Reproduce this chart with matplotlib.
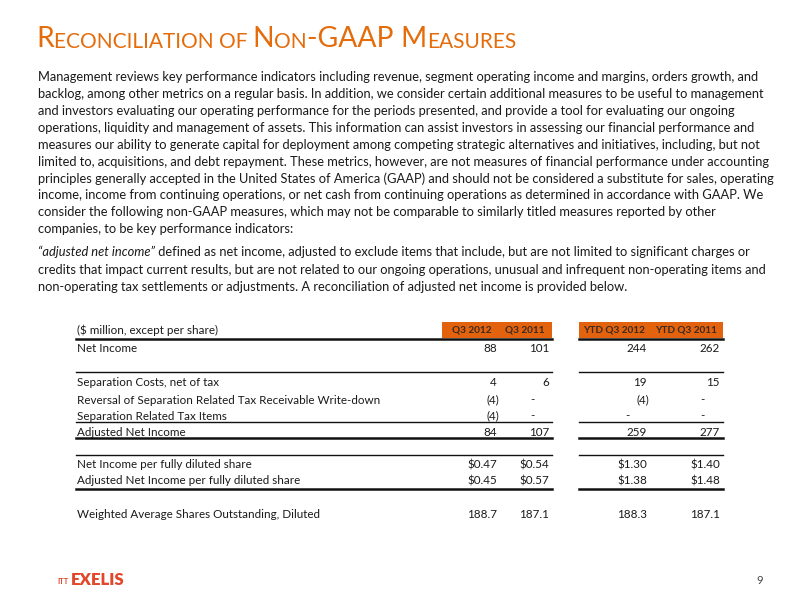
import matplotlib.pyplot as plt
from matplotlib.lines import Line2D

# slide text
title_parts = [("R", "big"), ("ECONCILIATION OF ", "small"), ("N", "big"), ("ON", "small"),
               ("-GAAP ", "big"), ("M", "big"), ("EASURES", "small")]

para1 = [
    "Management reviews key performance indicators including revenue, segment operating income and margins, orders growth, and",
    "backlog, among other metrics on a regular basis. In addition, we consider certain additional measures to be useful to management",
    "and investors evaluating our operating performance for the periods presented, and provide a tool for evaluating our ongoing",
    "operations, liquidity and management of assets. This information can assist investors in assessing our financial performance and",
    "measures our ability to generate capital for deployment among competing strategic alternatives and initiatives, including, but not",
    "limited to, acquisitions, and debt repayment. These metrics, however, are not measures of financial performance under accounting",
    "principles generally accepted in the United States of America (GAAP) and should not be considered a substitute for sales, operating",
    "income, income from continuing operations, or net cash from continuing operations as determined in accordance with GAAP. We",
    "consider the following non-GAAP measures, which may not be comparable to similarly titled measures reported by other",
    "companies, to be key performance indicators:",
]
para2_italic = "\u201cadjusted net income\u201d"
para2 = [
    " defined as net income, adjusted to exclude items that include, but are not limited to significant charges or",
    "credits that impact current results, but are not related to our ongoing operations, unusual and infrequent non-operating items and",
    "non-operating tax settlements or adjustments. A reconciliation of adjusted net income is provided below.",
]

# table data
unit_label = "($ million, except per share)"
col_headers = ["Q3 2012", "Q3 2011", "YTD Q3 2012", "YTD Q3 2011"]
row_labels = ["Net Income", "Separation Costs, net of tax",
              "Reversal of Separation Related Tax Receivable Write-down",
              "Separation Related Tax Items", "Adjusted Net Income",
              "Net Income per fully diluted share",
              "Adjusted Net Income per fully diluted share",
              "Weighted Average Shares Outstanding, Diluted"]
q3_2012 = [88, 4, -4, -4, 84, 0.47, 0.45, 188.7]
q3_2011 = [101, 6, None, None, 107, 0.54, 0.57, 187.1]
ytd_2012 = [244, 19, -4, None, 259, 1.30, 1.38, 188.3]
ytd_2011 = [262, 15, None, None, 277, 1.40, 1.48, 187.1]
row_kind = ["int", "int", "int", "int", "int", "eps", "eps", "shares"]

ORANGE = "#E46C0A"
HEAD = "#E2620E"
TXT = "#1a1a1a"
FONT = "Lato"

fig = plt.figure(figsize=(8, 6), dpi=100)
ax = fig.add_axes([0, 0, 1, 1])
ax.set_xlim(0, 800)
ax.set_ylim(600, 0)
ax.axis("off")
renderer = fig.canvas.get_renderer()


def fit_size(txt, width, size=10.0, **kw):
    # shrink/grow font so that txt is about `width` pixels wide
    t = ax.text(0, 0, txt, fontsize=size, family=FONT, **kw)
    w = t.get_window_extent(renderer).width
    t.remove()
    return size * width / w


# title in small caps, chained piece by piece
prev = None
for txt, size in title_parts:
    fs = 20.3 if size == "big" else 15
    if prev is None:
        prev = ax.annotate(txt, xy=(36, 47), fontsize=fs, color=ORANGE, family=FONT,
                           va="baseline", ha="left")
    else:
        prev = ax.annotate(txt, xy=(1, 0), xycoords=prev, fontsize=fs, color=ORANGE,
                           family=FONT, va="bottom", ha="left")

# paragraphs
pfs = fit_size(para1[0], 722)
y = 77
for line in para1:
    ax.text(38, y, line, fontsize=pfs, family=FONT, color=TXT, va="center")
    y += 16.9
it = ax.text(38, 252, para2_italic, fontsize=pfs, family=FONT, style="italic", color=TXT, va="center")
ax.annotate(para2[0], xy=(1, 0), xycoords=it, fontsize=pfs, family=FONT, color=TXT, va="bottom")
y = 269.5
for line in para2[1:]:
    ax.text(38, y, line, fontsize=pfs, family=FONT, color=TXT, va="center")
    y += 17.5

# table
tfs = fit_size(row_labels[2], 301)
hfs = fit_size(col_headers[2], 62, weight="bold")
col_right = [497, 549, 647, 720]
head_right = [492, 545, 645, 717]
dash_x = [482, 532, 627, 702]
row_y = [348, 382, 400, 416, 432, 465, 481, 515]

ax.add_patch(plt.Rectangle((442, 322), 110, 16, color=HEAD, lw=0))
ax.add_patch(plt.Rectangle((579, 322), 144, 16, color=HEAD, lw=0))
ax.text(77, 330, unit_label, fontsize=tfs, family=FONT, color=TXT, va="center")
for h, xr in zip(col_headers, head_right):
    ax.text(xr, 330, h, fontsize=hfs, family=FONT, color="#3a2a20", weight="bold",
            ha="right", va="center")


def fmt(v, kind):
    if kind == "eps":
        return f"${v:.2f}"
    if kind == "shares":
        return f"{v:.1f}"
    return f"({abs(v)})" if v < 0 else f"{v}"


for i, lab in enumerate(row_labels):
    ax.text(77, row_y[i], lab, fontsize=tfs, family=FONT, color=TXT, va="center")
    for j, col in enumerate([q3_2012, q3_2011, ytd_2012, ytd_2011]):
        v = col[i]
        if v is None:
            ax.text(dash_x[j], row_y[i], "-", fontsize=tfs, family=FONT, color=TXT,
                    ha="center", va="center")
        else:
            xr = col_right[j] + (2 if (row_kind[i] == "int" and v < 0) else 0)
            ax.text(xr, row_y[i], fmt(v, row_kind[i]), fontsize=tfs, family=FONT,
                    color=TXT, ha="right", va="center")

# rule lines (y, width)
rules = [(339, 1.8), (372, 1.0), (422, 1.0), (438, 1.8), (455, 1.0), (489, 1.8)]
for ry, lw in rules:
    ax.add_line(Line2D([76, 552], [ry, ry], color="#111111", lw=lw))
    ax.add_line(Line2D([579, 723], [ry, ry], color="#111111", lw=lw))

# footer logo and page number
ax.text(57, 581, "ITT", fontsize=5.5, family=FONT, color="#D9472B", weight="bold", va="center")
ax.text(71, 580, "EXELIS", fontsize=12, family=FONT, color="#E2472A", weight="heavy", va="center")
ax.text(760, 580, "9", fontsize=8, family=FONT, color="#444444", ha="center", va="center")

fig.savefig("out.png", dpi=100)
